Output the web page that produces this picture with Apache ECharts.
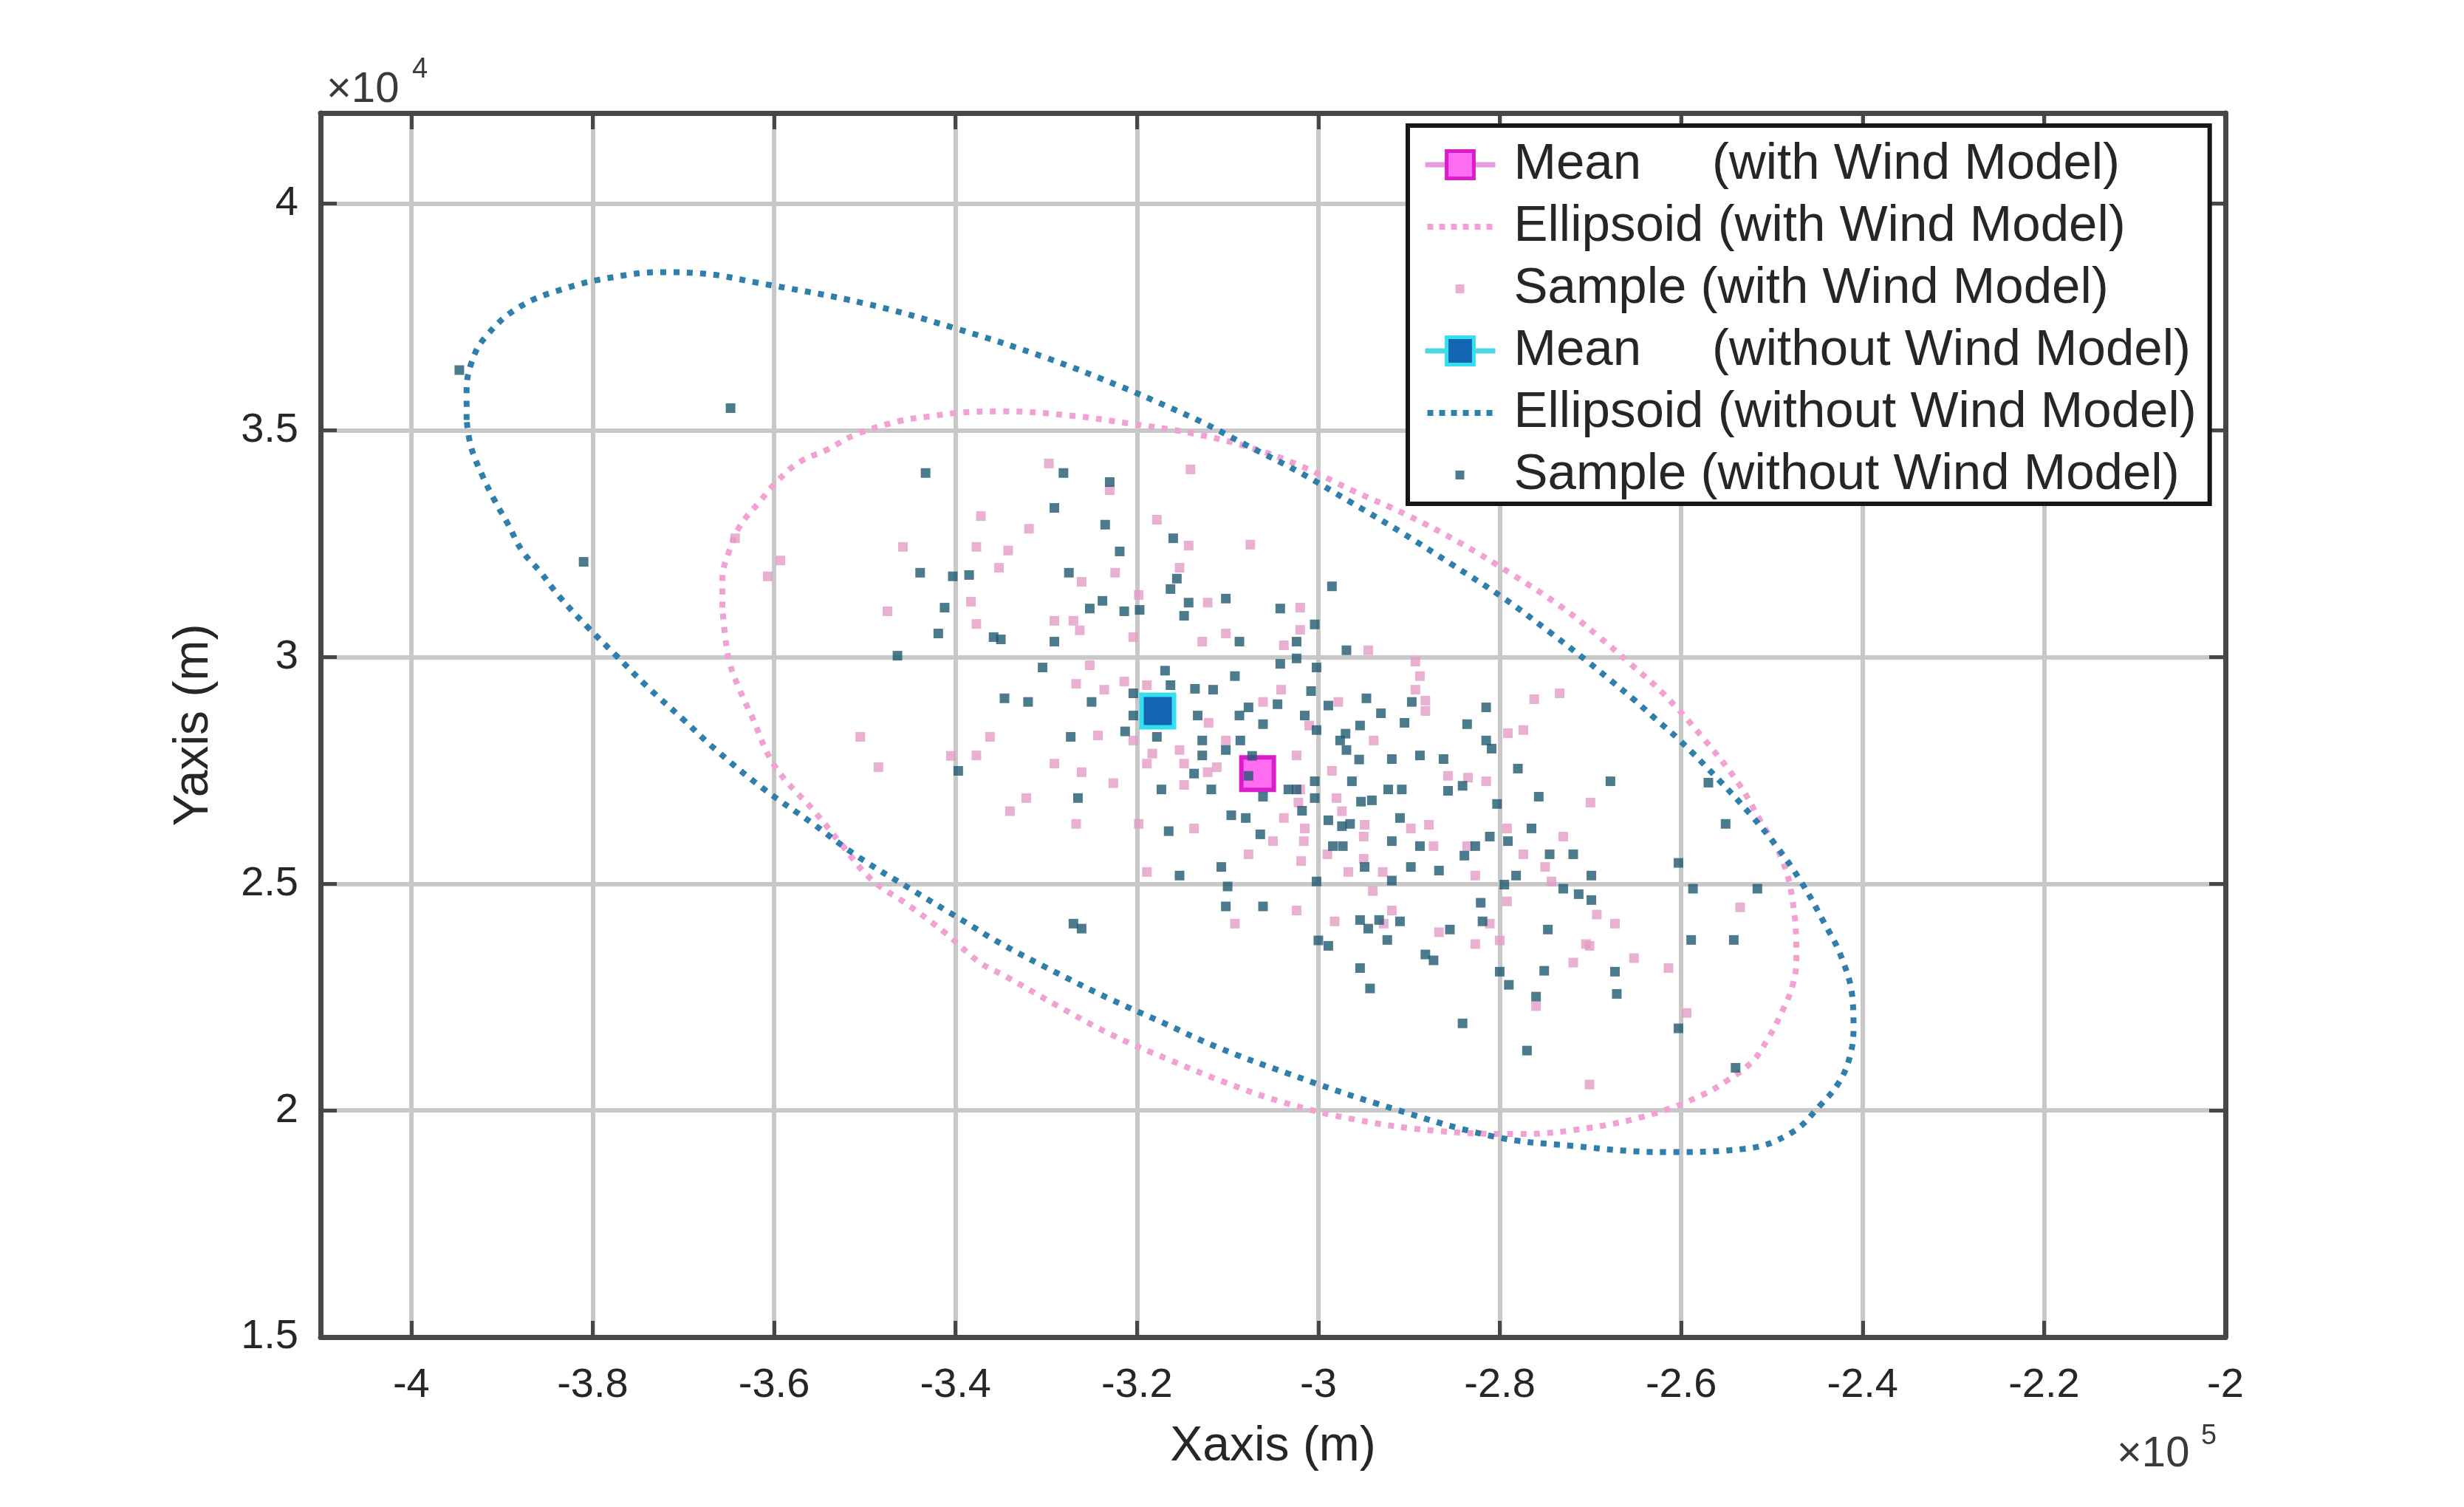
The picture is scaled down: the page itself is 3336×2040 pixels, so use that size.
<!DOCTYPE html>
<html><head><meta charset="utf-8">
<script src="https://cdn.jsdelivr.net/npm/echarts@6/dist/echarts.min.js"></script>
<style>html,body{margin:0;padding:0;background:#fff}#c{width:3336px;height:2040px}</style>
</head><body><div id="c"></div>
<script>
// Units: x in 1e5 m, y in 1e4 m (as shown with the ×10^5 / ×10^4 multipliers)
const xTicks = [-4, -3.8, -3.6, -3.4, -3.2, -3, -2.8, -2.6, -2.4, -2.2, -2];
const yTicks = [1.5, 2, 2.5, 3, 3.5, 4];

const meanWith = [[-3.067, 2.743]];
const meanWithout = [[-3.177, 2.881]];

const ellipseWith = [
[-3.657,3.109],[-3.657,3.173],[-3.650,3.231],[-3.638,3.288],[-3.617,3.340],[-3.596,3.389],[-3.572,3.430],[-3.541,3.458],[-3.511,3.490],[-3.463,3.520],[-3.428,3.531],[-3.395,3.539],[-3.350,3.542],[-3.275,3.533],[-3.208,3.515],[-3.143,3.495],[-3.080,3.465],[-3.020,3.422],[-2.963,3.368],[-2.902,3.313],[-2.843,3.251],[-2.786,3.182],[-2.731,3.109],[-2.692,3.047],[-2.656,2.985],[-2.620,2.920],[-2.577,2.824],[-2.537,2.722],[-2.513,2.640],[-2.489,2.554],[-2.477,2.461],[-2.473,2.336],[-2.477,2.277],[-2.489,2.217],[-2.505,2.156],[-2.522,2.107],[-2.550,2.065],[-2.578,2.033],[-2.630,1.993],[-2.700,1.962],[-2.780,1.948],[-2.870,1.955],[-2.960,1.980],[-3.039,2.018],[-3.103,2.062],[-3.167,2.114],[-3.226,2.165],[-3.287,2.230],[-3.344,2.295],[-3.373,2.326],[-3.411,2.391],[-3.450,2.450],[-3.493,2.510],[-3.525,2.585],[-3.554,2.656],[-3.599,2.759],[-3.625,2.871],[-3.638,2.928],[-3.649,2.987],[-3.654,3.047],[-3.657,3.109]
];

const ellipseWithout = [
[-3.939,3.523],[-3.939,3.585],[-3.934,3.647],[-3.919,3.704],[-3.881,3.772],[-3.829,3.814],[-3.777,3.838],[-3.726,3.849],[-3.674,3.845],[-3.622,3.827],[-3.500,3.780],[-3.400,3.725],[-3.300,3.660],[-3.217,3.596],[-3.169,3.555],[-3.125,3.515],[-3.079,3.467],[-3.023,3.410],[-2.963,3.340],[-2.906,3.272],[-2.851,3.202],[-2.795,3.129],[-2.743,3.052],[-2.705,2.993],[-2.678,2.949],[-2.652,2.906],[-2.628,2.863],[-2.603,2.819],[-2.559,2.730],[-2.525,2.656],[-2.495,2.583],[-2.468,2.505],[-2.444,2.420],[-2.423,2.336],[-2.411,2.244],[-2.410,2.184],[-2.414,2.119],[-2.426,2.062],[-2.446,2.013],[-2.479,1.950],[-2.531,1.915],[-2.617,1.908],[-2.721,1.922],[-2.808,1.943],[-2.937,2.016],[-3.033,2.081],[-3.112,2.140],[-3.173,2.195],[-3.230,2.246],[-3.291,2.306],[-3.350,2.368],[-3.393,2.420],[-3.450,2.489],[-3.507,2.559],[-3.559,2.635],[-3.612,2.710],[-3.664,2.795],[-3.700,2.862],[-3.740,2.935],[-3.775,3.005],[-3.806,3.067],[-3.837,3.134],[-3.857,3.186],[-3.878,3.235],[-3.893,3.292],[-3.908,3.345],[-3.922,3.402],[-3.934,3.463],[-3.939,3.523]
];

const sampleWith = [
[-3.593,3.213],[-3.607,3.178],[-3.372,3.311],[-3.377,3.243],[-3.458,3.243],[-3.383,3.122],[-3.475,3.101],[-3.377,3.073],[-3.505,2.824],[-3.362,2.824],[-3.643,3.262],
[-3.297,3.427],[-3.230,3.368],[-3.141,3.414],[-3.319,3.283],[-3.178,3.303],[-3.342,3.235],[-3.143,3.246],[-3.075,3.248],[-3.352,3.197],[-3.261,3.166],[-3.224,3.186],[-3.153,3.197],[-3.198,3.137],[-3.122,3.120],[-3.291,3.080],[-3.270,3.080],[-3.263,3.059],[-3.204,3.044],[-3.102,3.052],[-3.128,3.034],[-3.038,3.026],[-3.252,2.982],[-3.267,2.941],[-3.214,2.946],[-3.236,2.928],[-3.189,2.938],[-3.041,2.928],[-3.061,2.901],[-3.121,2.855],[-3.243,2.827],[-3.204,2.816],[-3.102,2.816],
[-3.020,3.109],[-3.020,3.060],[-2.945,3.015],[-2.893,2.990],[-2.888,2.958],[-2.893,2.928],[-2.882,2.904],[-2.882,2.881],[-2.978,2.901],[-3.010,2.849],[-2.762,2.907],[-2.734,2.920],[-2.774,2.839],[-2.791,2.832],[-2.939,2.816],
[-3.153,2.795],[-3.183,2.787],[-3.189,2.765],[-3.148,2.765],[-3.112,2.757],[-3.122,2.746],[-3.291,2.765],[-3.261,2.746],[-3.226,2.722],[-3.148,2.718],[-3.322,2.689],[-3.340,2.660],[-3.267,2.632],[-3.198,2.632],[-3.137,2.622],[-3.050,2.594],[-3.077,2.565],[-3.189,2.526],[-3.092,2.412],[-3.038,2.645],
[-3.024,2.783],[-2.985,2.749],[-2.857,2.738],[-2.835,2.734],[-2.815,2.726],[-3.020,2.708],[-2.980,2.689],[-3.022,2.679],[-2.974,2.660],[-2.949,2.630],[-2.898,2.622],[-2.878,2.630],[-3.015,2.622],[-2.950,2.604],[-3.016,2.594],[-2.873,2.583],[-2.836,2.583],[-2.990,2.565],[-3.019,2.550],[-2.774,2.565],[-2.730,2.604],[-2.792,2.622],[-2.950,2.555],[-2.967,2.526],[-2.929,2.526],[-2.750,2.537],[-2.743,2.505],[-2.827,2.518],[-2.940,2.484],[-2.792,2.461],[-3.024,2.441],[-2.919,2.441],[-2.982,2.417],[-2.928,2.412],[-2.867,2.393],[-2.811,2.412],[-2.827,2.367],[-2.800,2.375],[-2.705,2.367],[-2.719,2.326],[-2.760,2.230],
[-2.693,2.432],[-2.673,2.412],[-2.652,2.336],[-2.614,2.314],[-2.535,2.448],[-2.594,2.215],[-2.701,2.057],[-2.700,2.679],[-2.701,2.363],
[-3.485,2.757],[-3.377,2.783],[-3.405,2.782]
];

const sampleWithout = [
[-3.648,3.549],[-3.433,3.406],[-3.439,3.186],[-3.403,3.178],[-3.385,3.181],[-3.412,3.109],[-3.419,3.052],[-3.358,3.044],[-3.464,3.003],
[-3.281,3.406],[-3.230,3.386],[-3.291,3.329],[-3.235,3.292],[-3.219,3.233],[-3.160,3.262],[-3.275,3.186],[-3.156,3.173],[-3.163,3.150],[-3.238,3.124],[-3.252,3.107],[-3.214,3.101],[-3.197,3.104],[-3.143,3.120],[-3.102,3.129],[-3.148,3.091],[-3.042,3.107],[-3.350,3.039],[-3.291,3.034],[-3.087,3.034],[-3.304,2.977],[-3.042,2.985],[-3.169,2.970],[-3.092,2.958],[-3.163,2.938],[-3.136,2.930],[-3.116,2.928],[-3.204,2.920],[-3.346,2.909],[-3.320,2.901],[-3.250,2.901],[-3.077,2.889],[-3.045,2.896],[-3.204,2.871],[-3.133,2.871],[-3.087,2.871],[-3.061,2.852],[-3.213,2.836],[-3.273,2.824],[-3.178,2.824],[-3.128,2.816],[-3.086,2.816],
[-2.985,3.156],[-3.004,3.072],[-3.024,3.034],[-2.969,3.015],[-3.024,2.997],[-3.002,2.977],[-3.008,2.925],[-2.989,2.893],[-2.947,2.909],[-2.931,2.876],[-2.897,2.901],[-3.015,2.871],[-2.954,2.849],[-2.905,2.855],[-3.002,2.839],[-2.970,2.831],[-2.815,2.889],[-2.836,2.852],[-2.815,2.816],[-2.976,2.816],
[-3.128,2.783],[-3.102,2.795],[-3.073,2.782],[-3.077,2.738],[-3.137,2.743],[-3.173,2.708],[-3.118,2.708],[-3.061,2.692],[-3.033,2.708],[-3.265,2.689],[-3.096,2.651],[-3.080,2.645],[-3.165,2.616],[-3.064,2.609],[-3.107,2.537],[-3.153,2.518],[-3.100,2.494],[-3.102,2.450],[-3.061,2.450],[-3.270,2.412],[-3.261,2.401],
[-2.969,2.795],[-2.955,2.774],[-2.919,2.775],[-2.888,2.783],[-2.862,2.775],[-2.809,2.798],[-2.780,2.754],[-3.004,2.726],[-2.963,2.726],[-2.923,2.708],[-2.908,2.708],[-2.857,2.705],[-2.841,2.716],[-3.024,2.708],[-3.004,2.689],[-3.018,2.661],[-2.953,2.681],[-2.941,2.684],[-2.803,2.676],[-2.757,2.692],[-2.910,2.645],[-2.989,2.640],[-2.974,2.627],[-2.965,2.632],[-2.765,2.622],[-2.811,2.604],[-2.791,2.594],[-2.984,2.583],[-2.973,2.583],[-2.919,2.594],[-2.888,2.583],[-2.827,2.583],[-2.839,2.562],[-2.745,2.565],[-2.719,2.565],[-2.949,2.537],[-2.898,2.537],[-2.867,2.529],[-2.782,2.518],[-3.002,2.505],[-2.919,2.507],[-2.795,2.498],[-2.730,2.489],[-2.713,2.477],[-2.821,2.458],[-2.954,2.420],[-2.933,2.420],[-2.910,2.417],[-2.945,2.401],[-2.855,2.399],[-2.819,2.417],[-2.747,2.399],[-3.000,2.375],[-2.989,2.363],[-2.924,2.376],[-2.882,2.344],[-2.873,2.331],[-2.954,2.314],[-2.800,2.306],[-2.751,2.308],[-2.790,2.277],[-2.943,2.269],[-2.760,2.251],[-2.841,2.192],[-2.770,2.132],
[-2.678,2.726],[-2.699,2.518],[-2.603,2.546],[-2.587,2.489],[-2.516,2.489],[-2.551,2.632],[-2.570,2.723],[-2.699,2.464],[-2.589,2.376],[-2.542,2.376],[-2.673,2.306],[-2.671,2.257],[-2.603,2.181],[-2.540,2.094],
[-3.397,2.749],[-3.810,3.210],[-3.947,3.633]
];

const names = [
  'Mean     (with Wind Model)',
  'Ellipsoid (with Wind Model)',
  'Sample (with Wind Model)',
  'Mean     (without Wind Model)',
  'Ellipsoid (without Wind Model)',
  'Sample (without Wind Model)'
];

const C = {
  pinkMeanFill: '#ff6cf2', pinkMeanBorder: '#d91ec9', pinkMeanLine: '#e49ade',
  pinkEll: '#f2a2d2', pinkSample: '#e39cc6',
  blueMeanFill: '#1565b5', blueMeanBorder: '#35dff0', blueMeanLine: '#4fd6e6',
  blueEll: '#2f7fac', blueSample: '#215a72',
  text: '#262626', axis: '#474747', grid: '#c8c8c8'
};
const FONT = 'Liberation Sans, Arial, Helvetica, sans-serif';

// legend icon paths (bbox 95 x 46 kept by tiny invisible corner squares)
const corners = 'M0 0h0.01v0.01h-0.01Z M94.99 45.99h0.01v0.01h-0.01Z ';
const dotIcon = 'path://' + corners + 'M3 19h8v8h-8Z M19 19h8v8h-8Z M35 19h8v8h-8Z M51 19h8v8h-8Z M67 19h8v8h-8Z M83 19h8v8h-8Z';
const sqIcon = 'path://' + corners + 'M41 17h12v12h-12Z';

const chart = echarts.init(document.getElementById('c'), null, {renderer: 'canvas'});

const axisCommon = (ticks) => ({
  type: 'value',
  axisLine: {show: true, onZero: false, lineStyle: {color: C.axis, width: 7}},
  axisTick: {show: true, inside: true, length: 22, customValues: ticks, lineStyle: {color: C.axis, width: 5}},
});

chart.setOption({
  backgroundColor: '#ffffff',
  animation: false,
  grid: {left: 434, right: 323, top: 153, bottom: 230, containLabel: false, outerBoundsMode: 'none'},
  xAxis: [
    Object.assign(axisCommon(xTicks), {
      min: -4.1, max: -2, position: 'bottom',
      axisLabel: {customValues: xTicks, margin: 38, fontSize: 56, color: C.text, fontFamily: FONT},
      splitLine: {show: true, lineStyle: {color: C.grid, width: 6}},
      name: 'Xaxis (m)', nameLocation: 'middle', nameGap: 116,
      nameTextStyle: {fontSize: 66, color: C.text, fontFamily: FONT}
    }),
    Object.assign(axisCommon(xTicks), {
      min: -4.1, max: -2, position: 'top',
      axisLabel: {show: false}, splitLine: {show: false}
    })
  ],
  yAxis: [
    Object.assign(axisCommon(yTicks), {
      min: 1.5, max: 4.2, position: 'left',
      axisLabel: {customValues: yTicks, margin: 30, fontSize: 56, color: C.text, fontFamily: FONT},
      splitLine: {show: true, lineStyle: {color: C.grid, width: 6}},
      name: 'Yaxis (m)', nameLocation: 'middle', nameGap: 138,
      nameTextStyle: {fontSize: 66, color: C.text, fontFamily: FONT}
    }),
    Object.assign(axisCommon(yTicks), {
      min: 1.5, max: 4.2, position: 'right',
      axisLabel: {show: false}, splitLine: {show: false}
    })
  ],
  legend: {
    left: 1906, top: 170, orient: 'vertical', selectedMode: false,
    backgroundColor: '#ffffff', borderColor: '#161616', borderWidth: 6,
    padding: [18, 18, 4, 20], itemWidth: 95, itemHeight: 46, itemGap: 14,
    textStyle: {fontSize: 69, lineHeight: 70, color: C.text, fontFamily: FONT, padding: [0, 0, 0, 20]},
    data: [
      {name: names[0], itemStyle: {color: C.pinkMeanFill, borderColor: C.pinkMeanBorder, borderWidth: 5}, lineStyle: {color: C.pinkMeanLine, width: 7}},
      {name: names[1], icon: dotIcon, itemStyle: {color: C.pinkEll, borderWidth: 0}},
      {name: names[2], icon: sqIcon, itemStyle: {color: C.pinkSample, borderWidth: 0}},
      {name: names[3], itemStyle: {color: C.blueMeanFill, borderColor: C.blueMeanBorder, borderWidth: 5}, lineStyle: {color: C.blueMeanLine, width: 7}},
      {name: names[4], icon: dotIcon, itemStyle: {color: C.blueEll, borderWidth: 0}},
      {name: names[5], icon: sqIcon, itemStyle: {color: C.blueSample, borderWidth: 0}}
    ]
  },
  graphic: [
    {type: 'text', left: 442, top: 93, style: {text: '×10', fontSize: 58, fill: '#3a3a3a', fontFamily: FONT}},
    {type: 'text', left: 558, top: 76, style: {text: '4', fontSize: 38, fill: '#3a3a3a', fontFamily: FONT}},
    {type: 'text', left: 2866, top: 1940, style: {text: '×10', fontSize: 58, fill: '#3a3a3a', fontFamily: FONT}},
    {type: 'text', left: 2980, top: 1926, style: {text: '5', fontSize: 38, fill: '#3a3a3a', fontFamily: FONT}}
  ],
  series: [
    {name: names[1], type: 'line', data: ellipseWith, smooth: 0.4, symbol: 'none', silent: true,
     lineStyle: {color: C.pinkEll, width: 8, type: [8, 10]}, z: 2},
    {name: names[2], type: 'scatter', data: sampleWith, symbol: 'rect', symbolSize: 13, silent: true,
     itemStyle: {color: C.pinkSample}, z: 3},
    {name: names[0], type: 'line', data: meanWith, symbol: 'rect', symbolSize: 44, silent: true,
     itemStyle: {color: C.pinkMeanFill, borderColor: C.pinkMeanBorder, borderWidth: 6},
     lineStyle: {color: C.pinkMeanLine, width: 7}, z: 4},
    {name: names[4], type: 'line', data: ellipseWithout, smooth: 0.4, symbol: 'none', silent: true,
     lineStyle: {color: C.blueEll, width: 8, type: [8, 10]}, z: 5},
    {name: names[5], type: 'scatter', data: sampleWithout, symbol: 'rect', symbolSize: 13, silent: true,
     itemStyle: {color: C.blueSample}, z: 6},
    {name: names[3], type: 'line', data: meanWithout, symbol: 'rect', symbolSize: 44, silent: true,
     itemStyle: {color: C.blueMeanFill, borderColor: C.blueMeanBorder, borderWidth: 6},
     lineStyle: {color: C.blueMeanLine, width: 7}, z: 7}
  ]
});
</script>
</body></html>
